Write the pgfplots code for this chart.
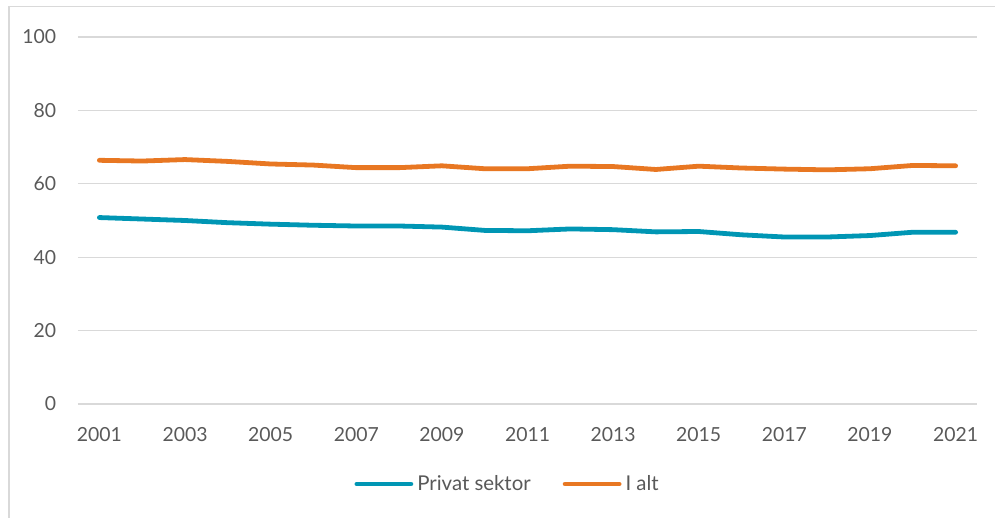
\documentclass[border=0pt]{standalone}
\usepackage{pgfplots}
\pgfplotsset{compat=1.18}
\usepackage{fontspec}
\setmainfont{Lato}
\definecolor{cblue}{HTML}{0096B4}
\definecolor{corange}{HTML}{E87722}
\definecolor{cgrid}{HTML}{D9D9D9}
\definecolor{ctext}{HTML}{595959}
\begin{document}
\fontsize{9.7}{12}\selectfont
\begin{tikzpicture}
\path[use as bounding box] (0,0) rectangle (497.5pt,259pt);
\draw[cgrid, line width=0.6pt] (4.5pt,0) -- (4.5pt,255.75pt) -- (497.5pt,255.75pt);
\begin{axis}[
  at={(39pt,57pt)}, anchor=south west,
  scale only axis, width=449.5pt, height=183.5pt,
  xmin=2000.5, xmax=2021.5, ymin=0, ymax=100,
  xtick={2001,2003,...,2021}, ytick={0,20,...,100},
  axis line style={draw=none},
  tick style={draw=none},
  ymajorgrids, grid style={cgrid, line width=0.6pt},
  /pgf/number format/1000 sep={},
  /pgf/number format/assume math mode=true,
  ticklabel style={text=ctext},
  yticklabel style={xshift=-7.5pt},
  xticklabel style={yshift=-8.5pt},
  legend style={draw=none, at={(0.479,-0.218)}, anchor=center, legend columns=2,
    text=ctext, font=\fontsize{10.2}{12}\selectfont,
    /tikz/every even column/.append style={column sep=14pt},
    inner sep=0pt, cells={anchor=west}},
  legend image code/.code={\draw[#1, line cap=round] (0pt,0pt) -- (27pt,0pt);},
  clip=false,
]
\addplot[cblue, line width=2.4pt, line cap=round, line join=round] coordinates {
(2001,50.8) (2002,50.4) (2003,50.0) (2004,49.4) (2005,49.0) (2006,48.7) (2007,48.5)
(2008,48.5) (2009,48.2) (2010,47.3) (2011,47.2) (2012,47.7) (2013,47.5) (2014,46.9)
(2015,47.0) (2016,46.1) (2017,45.5) (2018,45.5) (2019,45.9) (2020,46.8) (2021,46.8)};
\addlegendentry{Privat sektor}
\addplot[corange, line width=2.4pt, line cap=round, line join=round] coordinates {
(2001,66.4) (2002,66.2) (2003,66.6) (2004,66.1) (2005,65.4) (2006,65.1) (2007,64.4)
(2008,64.4) (2009,64.9) (2010,64.1) (2011,64.1) (2012,64.8) (2013,64.7) (2014,63.9)
(2015,64.8) (2016,64.3) (2017,64.0) (2018,63.8) (2019,64.1) (2020,65.0) (2021,64.9)};
\addlegendentry{I alt}
\end{axis}
\end{tikzpicture}
\end{document}
